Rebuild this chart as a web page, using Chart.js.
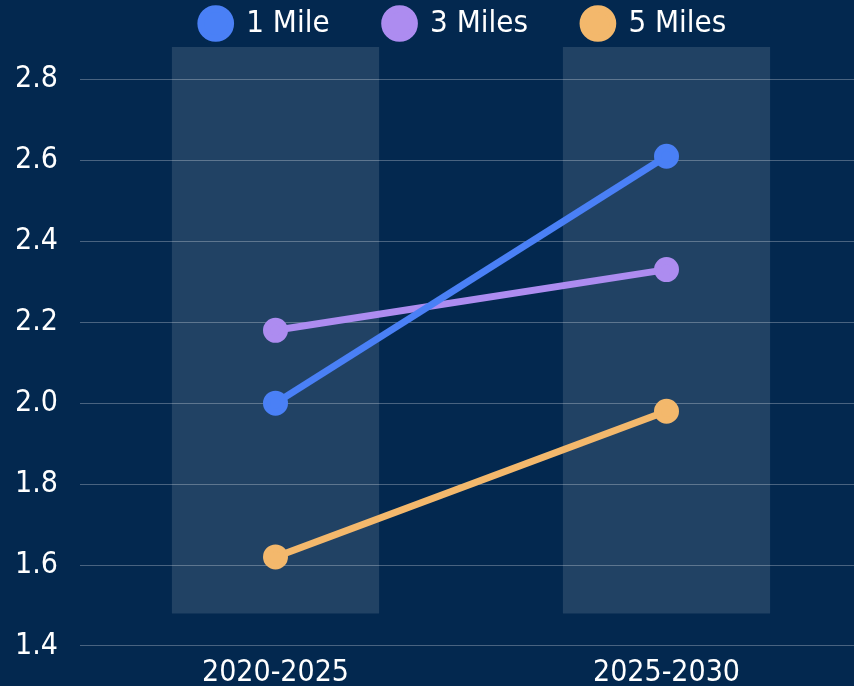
<!DOCTYPE html>
<html lang="en">
<head>
    <meta charset="UTF-8">
    <title>Growth by distance</title>
    <style>
        html, body {
            margin: 0;
            padding: 0;
            background: #03284f;
            overflow: hidden;
        }
        canvas { display: block; }
    </style>
</head>
<body>

<canvas id="myChart" width="862" height="692"></canvas>

<script src="https://cdn.jsdelivr.net/npm/chart.js"></script>
<script>
    const periods = ['2020-2025', '2025-2030'];
    const oneMile = [2.0, 2.61];
    const threeMiles = [2.18, 2.33];
    const fiveMiles = [1.62, 1.98];
    const bandRange = [1.48, 2.88];

    const fontFamily = "'DejaVu Sans Condensed', 'Roboto', sans-serif";

    function lineSet(label, data, color) {
        return {
            type: 'line',
            label: label,
            data: data,
            borderColor: color,
            backgroundColor: color,
            borderWidth: 7,
            pointRadius: 9,
            pointHoverRadius: 9,
            order: 0
        };
    }

    // legend: wide gaps between items but a short box, so move it when drawing
    const legendTweak = {
        id: 'legendTweak',
        afterInit(chart) {
            const lg = chart.legend;
            const fit = lg.fit;
            lg.fit = function () { fit.call(this); this.height = 47; };
            const draw = lg.draw;
            lg.draw = function () {
                const box = { top: this.top, left: this.left, right: this.right };
                this.top -= 47;
                this.left += 24;
                this.right += 24;
                draw.call(this);
                Object.assign(this, box);
            };
        }
    };

    const ctx = document.getElementById('myChart').getContext('2d');
    new Chart(ctx, {
        type: 'bar',
        data: {
            labels: periods,
            datasets: [
                lineSet('1 Mile', oneMile, '#4a80f6'),
                lineSet('3 Miles', threeMiles, '#ad8cf0'),
                lineSet('5 Miles', fiveMiles, '#f3b86c'),
                {
                    label: 'band',
                    data: periods.map(() => bandRange),
                    backgroundColor: 'rgba(255,255,255,0.12)',
                    borderWidth: 0,
                    barPercentage: 0.53,
                    categoryPercentage: 1,
                    order: 10
                }
            ]
        },
        options: {
            responsive: false,
            animation: false,
            layout: { autoPadding: false, padding: { left: 17, right: 0, top: 0, bottom: 0 } },
            plugins: {
                legend: {
                    labels: {
                        color: '#ffffff',
                        font: { family: fontFamily, size: 31 },
                        usePointStyle: true,
                        pointStyle: 'circle',
                        boxWidth: 30,
                        boxHeight: 21,
                        padding: 55,
                        filter: (item) => item.text !== 'band'
                    }
                },
                tooltip: { enabled: false }
            },
            scales: {
                x: {
                    grid: { display: false },
                    border: { display: false },
                    afterFit: (scale) => { scale.paddingLeft = 0; scale.paddingRight = 0; },
                    ticks: {
                        color: '#ffffff',
                        font: { family: fontFamily, size: 30 },
                        padding: 1
                    }
                },
                y: {
                    min: 1.4,
                    max: 2.88,
                    afterFit: (scale) => { scale.width = 63; },
                    grid: {
                        color: 'rgba(255,255,255,0.28)',
                        drawTicks: false
                    },
                    border: { display: false },
                    ticks: {
                        stepSize: 0.2,
                        includeBounds: false,
                        autoSkip: false,
                        color: '#ffffff',
                        font: { family: fontFamily, size: 30 },
                        padding: 22,
                        callback: (v) => Number(v).toFixed(1)
                    }
                }
            }
        },
        plugins: [legendTweak]
    });
</script>

</body>
</html>
